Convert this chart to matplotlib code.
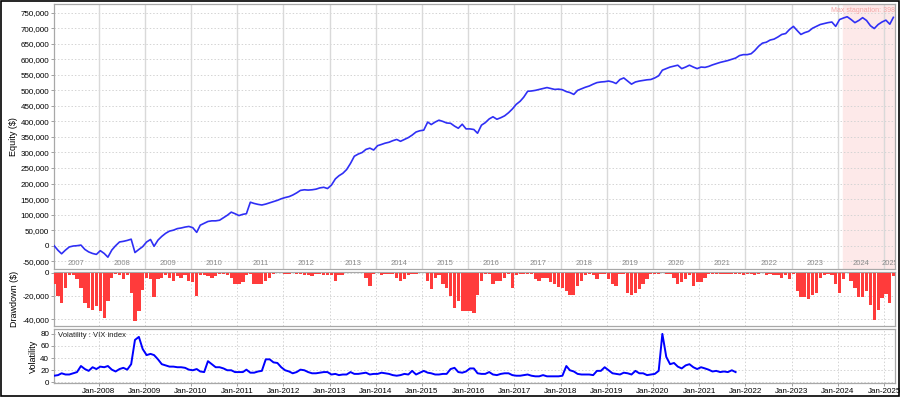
import pandas as pd
import matplotlib.pyplot as plt
import matplotlib.dates as mdates
import matplotlib.ticker as mticker
from matplotlib.patches import Rectangle
import numpy as np

plt.rcParams["font.family"] = ["Liberation Sans", "DejaVu Sans"]

# equity in thousands of $, one value per month (mid-month), Jan-2007 .. Mar-2025
equity_k = [
    0, -15, -26, -14, -4, -1, 0, 2, -12, -20, -25, -28,
    -16, -25, -37, -14, 0, 12, 14, 17, 21, -22, -12, -3,
    12, 20, -2, 18, 30, 40, 47, 50, 55, 57, 60, 62,
    58, 43, 66, 72, 78, 80, 80, 82, 90, 98, 108, 103,
    97, 101, 103, 140, 136, 133, 131, 134, 138, 142, 146, 151,
    155, 158, 163, 170, 178, 180, 179, 180, 182, 186, 188, 184,
    195, 215, 225, 233, 245, 265, 288, 295, 300, 310, 314, 308,
    322, 326, 330, 333, 338, 342, 336, 342, 348, 356, 366, 370,
    372, 398, 390, 398, 404, 400, 395, 394, 385, 378, 391, 376,
    376, 374, 362, 388, 396, 408, 415, 407, 412, 418, 428, 440,
    455, 465, 478, 497, 498, 500, 503, 506, 509, 506, 503, 504,
    502, 496, 493, 487, 500, 505, 510, 514, 520, 525, 527, 528,
    530, 527, 522, 535, 540, 530, 520, 527, 530, 532, 534, 535,
    540, 547, 565, 570, 575, 578, 581, 570, 575, 581, 575, 570,
    575, 574, 577, 582, 586, 590, 593, 596, 600, 604, 612, 615,
    615, 618, 628, 642, 652, 655, 662, 665, 672, 680, 683, 696,
    706, 692, 680, 686, 690, 700, 706, 712, 715, 718, 720, 706,
    728, 733, 737, 728, 718, 725, 734, 725, 708, 699, 712, 720,
    726, 713, 735,
]

# worst drawdown in each month, thousands of $, Jan-2007 .. Mar-2025
drawdown_k = [
    -10, -20, -26, -13, -2, -2, -5, -13, -26, -30, -32, -29,
    -33, -39, -24, -4, -1, -1.5, -5, -2, -17, -42, -33, -15,
    -4, -5, -21, -5, -4, -2, -4, -7, -3, -4, -1.5, -7,
    -8, -20, -2, -2, -3, -4, -3, -1, -1, -2, -4, -10,
    -10, -8, -2, -1, -10, -10, -10, -7, -4, -1, 0, 0,
    -1, -1, 0, -1, -1, -1.5, -2, -3, -1, -1, -1.5, -1.5,
    -2, -7, -1.5, -1.5, 0, 0, 0, 0, 0, -4, -11, -1,
    0, -2, -1, -1, -1, -4, -7, -5, -2, -1, -1, 0,
    0, -7, -14, -4, -2, -10, -13, -20, -30, -24, -33, -33,
    -33, -35, -19, -7, -1, -1, -10, -7, -7, -4, -1, -13,
    -2, -1, -0.5, -0.5, -0.5, -5, -7, -4, -4, -8, -10, -12,
    -13, -16, -19, -19, -11, -7, -2, -1, -2, -5, -1, -1,
    -5, -10, -11, -1, -1, -17, -19, -17, -14, -10, -5, -1,
    -1, -1, 0, -1, -1, -4, -10, -8, -5, -2, -11, -8,
    -8, -4, -1, -0.5, -0.5, -0.5, -0.5, -1, -0.5, -0.5, -0.5, -1.5,
    -1, -1, -2, -1, 0, -2, -1, -2, -2, -4, -2, -5,
    -1, -16, -21, -21, -23, -19, -17, -4, -2, -1, -2, -10,
    -17, -5, 0, -7, -13, -21, -21, -16, -28, -41, -32, -22,
    -18, -26, -3,
]

# VIX index, one value per month, Jan-2007 .. Oct-2021
vix = [
    11, 12, 15, 13, 13, 15, 17, 27, 22, 19, 25, 22,
    26, 25, 27, 21, 18, 22, 24, 21, 30, 70, 75, 55,
    45, 47, 45, 38, 30, 28, 26, 26, 25, 25, 24, 21,
    20, 22, 18, 17, 35, 30, 25, 25, 23, 20, 20, 17,
    17, 17, 21, 16, 16, 18, 19, 38, 38, 33, 32, 25,
    20, 18, 15, 17, 21, 20, 17, 15, 15, 16, 17, 17,
    13, 14, 12, 13, 13, 17, 14, 14, 15, 16, 13, 14,
    14, 16, 15, 14, 12, 11, 12, 14, 13, 19, 13, 16,
    19, 16, 15, 13, 13, 14, 14, 22, 24, 17, 16, 18,
    23, 23, 15, 14, 14, 17, 13, 12, 14, 15, 15, 12,
    11, 11, 12, 13, 11, 10, 10, 12, 10, 10, 10, 10,
    11, 27, 20, 18, 14, 13, 13, 13, 12, 19, 19, 25,
    20, 15, 14, 13, 16, 15, 13, 19, 15, 15, 12, 13,
    14, 19, 80, 42, 30, 32, 26, 23, 28, 30, 25, 22,
    25, 23, 21, 18, 19, 17, 18, 17, 20, 17,
]

stagnation_start = "2024-02-12"
stagnation_label = "Max stagnation: 398 days"
year_labels = list(range(2007, 2026))

x_start = pd.Timestamp("2007-01-14")
x_end = pd.Timestamp("2025-03-28")

eq_dates = pd.date_range("2007-01-01", periods=len(equity_k), freq="MS") + pd.Timedelta(days=14)
vix_dates = pd.date_range("2007-01-01", periods=len(vix), freq="MS") + pd.Timedelta(days=14)

equity = np.array(equity_k) * 1000.0
drawdown = np.array(drawdown_k) * 1000.0

fig = plt.figure(figsize=(9, 3.97), dpi=100)
W, H = 900.0, 397.0


def px_axes(left, top, right, bottom):
    return fig.add_axes([left / W, 1 - bottom / H, (right - left) / W, (bottom - top) / H])


ax1 = px_axes(54, 4, 895, 269)
ax2 = px_axes(54, 272, 895, 326)
ax3 = px_axes(54, 329, 895, 383)

spine_col = "#a8a8a8"
tick_fs = 5.8
for ax in (ax1, ax2, ax3):
    for s in ax.spines.values():
        s.set_color(spine_col)
        s.set_linewidth(0.9)
    ax.tick_params(axis="both", length=2, width=0.6, color="#909090",
                   labelsize=tick_fs, pad=1.5)
    ax.set_xlim(x_start, x_end)

# ---- equity panel
ax1.axvspan(pd.Timestamp(stagnation_start), x_end, color="#fde9e9", zorder=0)
for yr in range(2008, 2026):
    ax1.axvline(pd.Timestamp(f"{yr}-01-01"), color="#d9d9d9", lw=1.0, zorder=1)
ax1.yaxis.grid(True, color="#d4d4d4", linestyle=(0, (1.5, 2)), lw=0.7)
ax1.set_axisbelow(True)
ax1.plot(eq_dates, equity, color="#2f2ff5", lw=1.2, zorder=3)
ax1.set_ylim(-75000, 778000)
ax1.yaxis.set_major_locator(mticker.MultipleLocator(50000))
ax1.yaxis.set_major_formatter(mticker.FuncFormatter(lambda v, p: f"{int(v):,}"))
ax1.set_xticks([])
ax1.set_ylabel("Equity ($)", fontsize=6.5, labelpad=2)
for yr in year_labels:
    a = max(pd.Timestamp(f"{yr}-01-01"), x_start)
    b = min(pd.Timestamp(f"{yr + 1}-01-01"), x_end)
    mid = a + (b - a) / 2
    ax1.text(mid, 0.022, str(yr), transform=ax1.get_xaxis_transform(),
             ha="center", va="center", fontsize=5.5, color="#8a8a8a", clip_on=True)
# the reference cuts this label at the right border of the plot
ax1.text(pd.Timestamp("2023-11-08"), 0.975, stagnation_label,
         transform=ax1.get_xaxis_transform(), ha="left", va="center",
         fontsize=5.0, color="#f4a6a6", clip_on=True)

# ---- drawdown panel
ax2.bar(eq_dates, drawdown, width=26, color="#ff3b3b", edgecolor="none", zorder=3)
ax2.set_ylim(-46000, 800)
ax2.set_yticks([0, -20000, -40000])
ax2.yaxis.set_major_formatter(mticker.FuncFormatter(lambda v, p: f"{int(v):,}"))
ax2.xaxis.set_major_locator(mdates.YearLocator())
ax2.tick_params(axis="x", labelbottom=False, length=0)
ax2.grid(True, color="#d4d4d4", linestyle=(0, (1.5, 2)), lw=0.7)
ax2.set_axisbelow(True)
ax2.set_ylabel("Drawdown ($)", fontsize=6.5, labelpad=2)

# ---- volatility panel
ax3.plot(vix_dates, vix, color="#0000ff", lw=1.4, zorder=3)
ax3.set_ylim(-1, 88)
ax3.set_yticks([0, 20, 40, 60, 80])
ax3.xaxis.set_major_locator(mdates.YearLocator(base=1, month=1, day=1))
ax3.xaxis.set_major_formatter(mdates.DateFormatter("Jan-%Y"))
ax3.grid(True, color="#d4d4d4", linestyle=(0, (1.5, 2)), lw=0.7)
ax3.set_axisbelow(True)
ax3.set_ylabel("Volatility", fontsize=6.5, labelpad=2)
ax3.text(0.005, 0.88, "Volatility : VIX index", transform=ax3.transAxes,
         fontsize=5.5, ha="left", va="center", color="#202020")
ax3.set_xlim(x_start, x_end)

# outer frame
fig.patches.append(Rectangle((0.0006, 0.0015), 0.9985, 0.996, transform=fig.transFigure,
                             fill=False, edgecolor="black", lw=1.2))

fig.savefig("out.png", dpi=100)
plt.close(fig)
